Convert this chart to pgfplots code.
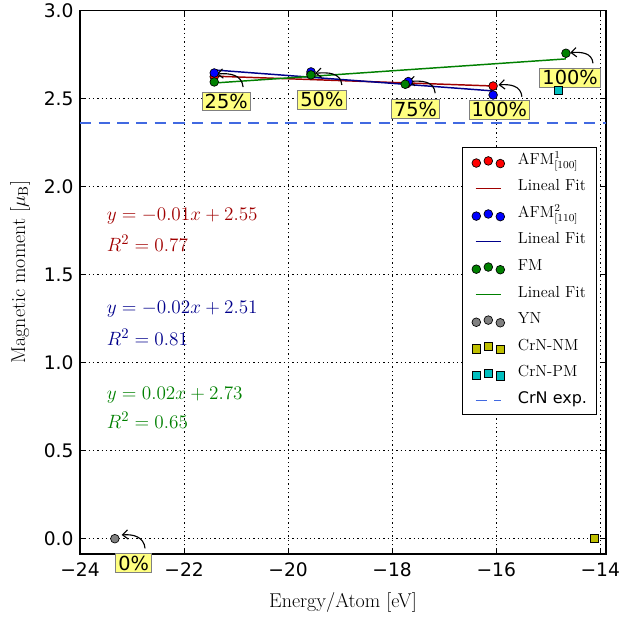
\documentclass[border=0pt]{standalone}
\usepackage{fontspec}
\usepackage{pgfplots}
\pgfplotsset{compat=1.18}
\usetikzlibrary{arrows.meta}
\newfontfamily\dejavu{DejaVu Sans}
\definecolor{fitred}{RGB}{160,0,0}
\definecolor{fitblue}{RGB}{0,0,139}
\definecolor{fitgreen}{RGB}{0,128,0}
\definecolor{mgreen}{RGB}{0,128,0}
\definecolor{mgray}{RGB}{128,128,128}
\definecolor{myellow}{RGB}{191,191,0}
\definecolor{mcyan}{RGB}{0,191,191}
\definecolor{expblue}{RGB}{65,105,225}
\definecolor{annfill}{RGB}{255,255,128}
\pgfplotsset{
  scatleg/.style={legend image code/.code={\draw[mark repeat=1,##1] plot coordinates {(0pt,-1pt) (9pt,0.6pt) (18pt,-1.4pt)};}},
  lineleg/.style={legend image code/.code={\draw[##1] (-0.5pt,0pt) -- (18.5pt,0pt);}},
  circ/.style={only marks, mark=*, mark size=3.25pt, mark options={draw=black, line width=0.5pt, fill=#1}, scatleg},
  sq/.style={only marks, mark=square*, mark size=3.1pt, mark options={draw=black, line width=0.6pt, fill=#1}, scatleg},
  fit/.style={draw=#1, line width=1.1pt, lineleg},
}
\tikzset{
  ann/.style={font=\dejavu\fontsize{14.5}{16}\selectfont, fill=annfill, draw=gray, line width=0.75pt, inner xsep=2pt, inner ysep=1.5pt},
  arr/.style={-{Straight Barb[length=4pt,width=7pt]}, line width=0.85pt, black},
}
\begin{document}
\begin{tikzpicture}
\useasboundingbox (-60pt,-50.25pt) rectangle (408pt,415.5pt);
\begin{axis}[
  at={(0pt,0pt)}, anchor=south west,
  scale only axis, width=394.5pt, height=407.5pt,
  xmin=-24, xmax=-13.89, ymin=-0.087, ymax=3.0,
  clip=false,
  axis line style={line width=1pt},
  tick style={line width=0.8pt, black},
  major tick length=4.5pt,
  tick pos=both, tick align=inside,
  xtick={-24,-22,-20,-18,-16,-14},
  xticklabels={−24,−22,−20,−18,−16,−14},
  ytick={0,0.5,1,1.5,2,2.5,3},
  yticklabels={0.0,0.5,1.0,1.5,2.0,2.5,3.0},
  ticklabel style={font=\dejavu\fontsize{14}{16}\selectfont},
  xticklabel shift=2.8pt, yticklabel shift=1.3pt,
  grid=major,
  major grid style={black, line width=0.75pt, dash pattern=on 1pt off 2.25pt},
  xlabel={Energy/Atom [eV]},
  ylabel={Magnetic moment [$\mu_{\mathrm{B}}$]},
  every axis x label/.style={at={(axis description cs:0.5,-0.09)}, anchor=center, font=\fontsize{15}{18}\selectfont},
  every axis y label/.style={at={(axis description cs:-0.114,0.519)}, rotate=90, anchor=center, font=\fontsize{15}{18}\selectfont},
  legend style={at={(0.983,0.749)}, anchor=north east, draw=black, line width=1pt,
    font=\fontsize{12}{14}\selectfont, inner xsep=7pt, inner ysep=3.5pt,
    row sep=5.9pt, column sep=0pt,
    nodes={inner sep=0pt, text height=9pt, text depth=5pt}},
  legend cell align=left,
  legend columns=1,
]
\addplot[circ=red] coordinates {(-21.42,2.625) (-19.56,2.640) (-17.72,2.585) (-16.06,2.572)};
\addlegendentry{\hspace{10pt}AFM$^{1}_{[100]}$}
\addplot[fit=fitred] coordinates {(-21.42,2.628) (-16.06,2.572)};
\addlegendentry{\hspace{10pt}Lineal Fit}
\addplot[circ=blue] coordinates {(-21.42,2.646) (-19.56,2.652) (-17.69,2.597) (-16.06,2.521)};
\addlegendentry{\hspace{10pt}AFM$^{2}_{[110]}$}
\addplot[fit=fitblue] coordinates {(-21.42,2.663) (-16.06,2.544)};
\addlegendentry{\hspace{10pt}Lineal Fit}
\addplot[circ=mgreen] coordinates {(-21.42,2.595) (-19.56,2.635) (-17.75,2.582) (-14.66,2.758)};
\addlegendentry{\hspace{10pt}FM}
\addplot[fit=fitgreen] coordinates {(-21.42,2.589) (-14.66,2.726)};
\addlegendentry{\hspace{10pt}Lineal Fit}
\addplot[circ=mgray] coordinates {(-23.33,0.0)};
\addlegendentry{\hspace{10pt}YN}
\addplot[sq=myellow] coordinates {(-14.11,0.0)};
\addlegendentry{\hspace{10pt}CrN-NM}
\addplot[sq=mcyan] coordinates {(-14.80,2.549)};
\addlegendentry{\hspace{10pt}CrN-PM}
\addplot[draw=expblue, color=expblue, line width=1.4pt, dash pattern=on 8.5pt off 5.5pt, lineleg] coordinates {(-24,2.36) (-13.89,2.36)};
\addlegendentry{\hspace{10pt}{\dejavu CrN exp.}}

% annotations
\node[ann] at (axis cs:-21.19,2.484) {25\%};
\node[ann] at (axis cs:-19.35,2.493) {50\%};
\node[ann] at (axis cs:-17.55,2.441) {75\%};
\node[ann] at (axis cs:-15.94,2.436) {100\%};
\node[ann] at (axis cs:-14.58,2.618) {100\%};
\node[ann] at (axis cs:-22.97,-0.138) {0\%};
\draw[arr] (axis cs:-20.865,2.566) to[out=95,in=5,looseness=1.1] (axis cs:-21.371,2.640);
\draw[arr] (axis cs:-18.967,2.578) to[out=95,in=5,looseness=1.1] (axis cs:-19.481,2.644);
\draw[arr] (axis cs:-17.173,2.531) to[out=95,in=5,looseness=1.1] (axis cs:-17.687,2.597);
\draw[arr] (axis cs:-15.506,2.511) to[out=95,in=5,looseness=1.1] (axis cs:-15.956,2.578);
\draw[arr] (axis cs:-14.140,2.701) to[out=95,in=5,looseness=1.1] (axis cs:-14.577,2.761);
\draw[arr] (axis cs:-22.75,-0.055) to[out=95,in=5,looseness=1.1] (axis cs:-23.198,0.021);

% fit equations
\node[anchor=west, text=fitred, font=\fontsize{15}{18}\selectfont, inner sep=0pt] at (axis cs:-23.49,1.833) {$y=-0.01x+2.55$};
\node[anchor=west, text=fitred, font=\fontsize{15}{18}\selectfont, inner sep=0pt] at (axis cs:-23.49,1.680) {$R^2=0.77$};
\node[anchor=west, text=fitblue, font=\fontsize{15}{18}\selectfont, inner sep=0pt] at (axis cs:-23.49,1.305) {$y=-0.02x+2.51$};
\node[anchor=west, text=fitblue, font=\fontsize{15}{18}\selectfont, inner sep=0pt] at (axis cs:-23.49,1.146) {$R^2=0.81$};
\node[anchor=west, text=fitgreen, font=\fontsize{15}{18}\selectfont, inner sep=0pt] at (axis cs:-23.49,0.816) {$y=0.02x+2.73$};
\node[anchor=west, text=fitgreen, font=\fontsize{15}{18}\selectfont, inner sep=0pt] at (axis cs:-23.49,0.674) {$R^2=0.65$};
\end{axis}
\end{tikzpicture}
\end{document}
